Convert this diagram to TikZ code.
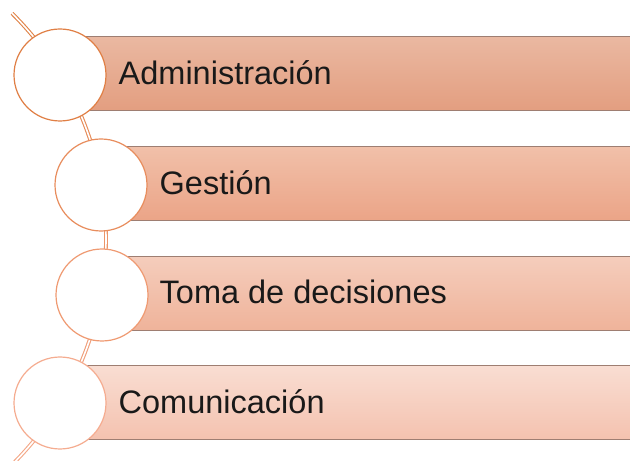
\documentclass[tikz,border=0pt]{standalone}
\usepackage{fontspec}
\setmainfont{Liberation Sans}
\begin{document}
\begin{tikzpicture}[x=1pt,y=1pt,
  bar/.style={rectangle, draw=barline, line width=1pt, minimum width=640pt, minimum height=74pt, anchor=west, inner sep=0pt},
  ring/.style={circle, fill=white, line width=1.2pt, minimum size=92pt, inner sep=0pt},
  lbl/.style={anchor=base west, inner sep=0pt, font=\fontsize{32.5}{38}\selectfont, text=black!90},
  conn/.style={double=white, double distance=1.6pt, line width=1.1pt}]
\definecolor{barline}{HTML}{9E7E72}
\definecolor{bAt}{HTML}{EAB8A1}\definecolor{bAb}{HTML}{E39E80}
\definecolor{bBt}{HTML}{F1C0A9}\definecolor{bBb}{HTML}{EBA487}
\definecolor{bCt}{HTML}{F5CDBC}\definecolor{bCb}{HTML}{EFB39A}
\definecolor{bDt}{HTML}{F9DDD2}\definecolor{bDb}{HTML}{F4C2AF}
\definecolor{cA}{HTML}{E07F45}\definecolor{cB}{HTML}{E88D5D}
\definecolor{cC}{HTML}{EF9A72}\definecolor{cD}{HTML}{F5AC90}
\definecolor{lA}{HTML}{E08348}\definecolor{lB}{HTML}{E68B58}
\definecolor{lC}{HTML}{EC9568}\definecolor{lD}{HTML}{F09E7A}\definecolor{lE}{HTML}{F4A888}
\useasboundingbox (0,0) rectangle (630,461);
\clip (0,0) rectangle (630,461);
% bars
\node[bar, top color=bAt, bottom color=bAb] (b1) at (60,387) {};
\node[bar, top color=bBt, bottom color=bBb] (b2) at (101,277) {};
\node[bar, top color=bCt, bottom color=bCb] (b3) at (102,167.5) {};
\node[bar, top color=bDt, bottom color=bDb] (b4) at (60,58) {};
% connector arc
\coordinate (arcc) at (-212,222);
\draw[conn, lA] (arcc) ++(45.2:318) arc[start angle=45.2, end angle=31.1, radius=318];
\draw[conn, lB] (arcc) ++(31.1:318) arc[start angle=31.1, end angle=9.8, radius=318];
\draw[conn, lC] (arcc) ++(9.8:318) arc[start angle=9.8, end angle=-10.1, radius=318];
\draw[conn, lD] (arcc) ++(-10.1:318) arc[start angle=-10.1, end angle=-31.1, radius=318];
\draw[conn, lE] (arcc) ++(-31.1:318) arc[start angle=-31.1, end angle=-50, radius=318];
% circles
\node[ring, draw=cA] (c1) at (60,386) {};
\node[ring, draw=cB] (c2) at (101,276) {};
\node[ring, draw=cC] (c3) at (102,166) {};
\node[ring, draw=cD] (c4) at (60,58) {};
% labels
\node[lbl] (t1) at (118.5,376) {Administración};
\node[lbl] (t2) at (159.5,266) {Gestión};
\node[lbl] (t3) at (159.5,157) {Toma de decisiones};
\node[lbl] (t4) at (118.5,47) {Comunicación};
\end{tikzpicture}
\end{document}
